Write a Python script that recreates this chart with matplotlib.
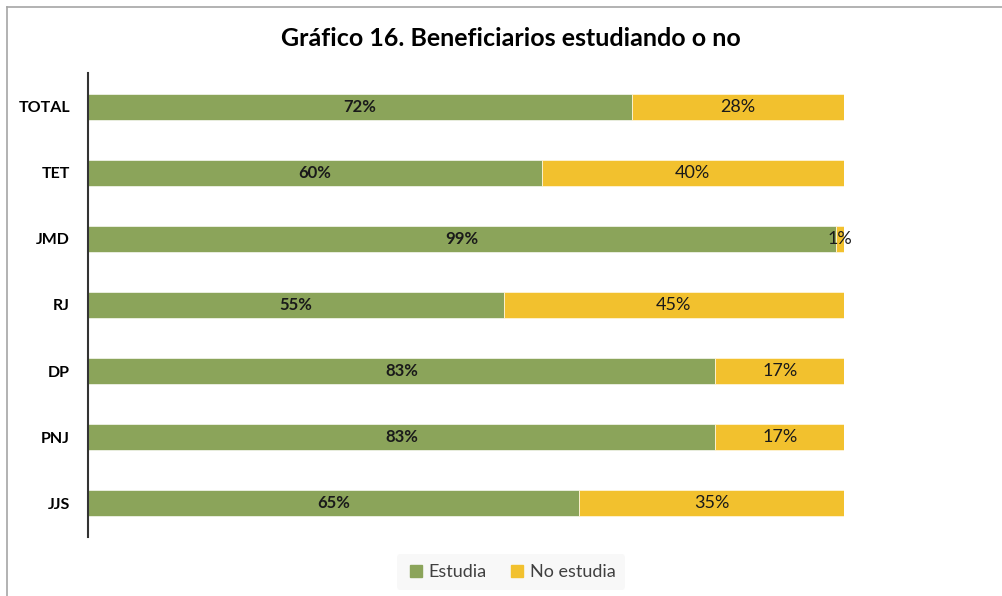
import matplotlib
matplotlib.use("Agg")
import matplotlib.pyplot as plt
from matplotlib.lines import Line2D

categories = ["TOTAL", "TET", "JMD", "RJ", "DP", "PNJ", "JJS"]
estudia = [72, 60, 99, 55, 83, 83, 65]
no_estudia = [28, 40, 1, 45, 17, 17, 35]
series_names = ["Estudia", "No estudia"]
title = "Gráfico 16. Beneficiarios estudiando o no"

green = "#8BA45A"
yellow = "#F2C12E"
plt.rcParams['font.family'] = ['Lato', 'DejaVu Sans']

W, H = 1003, 596
fig = plt.figure(figsize=(W/100, H/100), dpi=100)
ax = fig.add_axes([88/W, 1-537/H, (844-88)/W, (537-73)/H])

cats = categories[::-1]
e = estudia[::-1]
n = no_estudia[::-1]
y = list(range(len(cats)))
h = 26/66
ax.barh(y, e, height=h, color=green, edgecolor="#EEF2E6", linewidth=0.6, label=series_names[0])
ax.barh(y, n, left=e, height=h, color=yellow, edgecolor="#FFF4D6", linewidth=0.6, label=series_names[1])
for yi, a, bb in zip(y, e, n):
    ax.text(a/2, yi, f"{a}%", ha="center", va="center", fontsize=12, fontweight="bold", color="#1a1a1a")
    ax.text(a + bb/2, yi, f"{bb}%", ha="center", va="center", fontsize=13, color="#1a1a1a")

ax.set_xlim(0, 100)
ax.set_ylim(-0.515, 6.515)
ax.set_yticks(y)
ax.set_yticklabels(cats, fontsize=11.5, fontweight="bold")
ax.tick_params(axis="y", length=0, pad=13)
ax.set_xticks([])
for s in ["top", "right", "bottom"]:
    ax.spines[s].set_visible(False)
ax.spines["left"].set_color("#333333")
ax.spines["left"].set_linewidth(1.5)

fig.text(511/W, 1-38/H, title, ha="center", va="center", fontsize=18, fontweight="bold")

handles = [Line2D([], [], marker="s", linestyle="none", markersize=8, color=green),
           Line2D([], [], marker="s", linestyle="none", markersize=8, color=yellow)]
leg = fig.legend(handles, series_names, loc="center", bbox_to_anchor=(511/W, 1-572/H),
                 ncol=2, frameon=True, fontsize=13, handletextpad=0.2, columnspacing=1.2,
                 handlelength=1.0, borderpad=0.55)
leg.get_frame().set_facecolor("#F7F7F7")
leg.get_frame().set_edgecolor("none")
for t in leg.get_texts():
    t.set_color("#404040")

fig.add_artist(Line2D([7.5/W, 7.5/W], [0, 1-6.5/H], color="#A6A6A6", linewidth=1.2, transform=fig.transFigure))
fig.add_artist(Line2D([7.5/W, 1], [1-6.5/H, 1-6.5/H], color="#A6A6A6", linewidth=1.2, transform=fig.transFigure))

fig.savefig("out.png", dpi=100)
